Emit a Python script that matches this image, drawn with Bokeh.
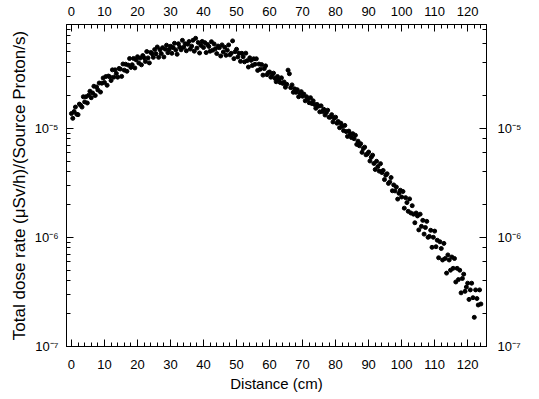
from bokeh.plotting import figure
from bokeh.models import LogAxis, LinearAxis, CustomJSTickFormatter, Range1d, SingleIntervalTicker, LogTicker
from bokeh.embed import file_html
from bokeh.resources import INLINE

# Distance (cm)
distance = [
    0.0, 0.4, 0.8, 1.2, 1.6, 2.0, 2.4, 2.8, 3.2, 3.6, 4.0, 4.4, 4.8, 5.2, 5.6, 6.0, 6.4, 6.8, 7.2, 7.6, 8.0, 8.4, 8.8, 9.2, 9.6,
    10.0, 10.4, 10.8, 11.2, 11.6, 12.0, 12.4, 12.8, 13.2, 13.6, 14.0, 14.4, 14.8, 15.2, 15.6, 16.0, 16.4, 16.8, 17.2, 17.6, 18.0, 18.4, 18.8, 19.2, 19.6,
    20.0, 20.4, 20.8, 21.2, 21.6, 22.0, 22.4, 22.8, 23.2, 23.6, 24.0, 24.4, 24.8, 25.2, 25.6, 26.0, 26.4, 26.8, 27.2, 27.6, 28.0, 28.4, 28.8, 29.2, 29.6,
    30.0, 30.4, 30.8, 31.2, 31.6, 32.0, 32.4, 32.8, 33.2, 33.6, 34.0, 34.4, 34.8, 35.2, 35.6, 36.0, 36.4, 36.8, 37.2, 37.6, 38.0, 38.4, 38.8, 39.2, 39.6,
    40.0, 40.4, 40.8, 41.2, 41.6, 42.0, 42.4, 42.8, 43.2, 43.6, 44.0, 44.4, 44.8, 45.2, 45.6, 46.0, 46.4, 46.8, 47.2, 47.6, 48.0, 48.4, 48.8, 49.2, 49.6,
    50.0, 50.4, 50.8, 51.2, 51.6, 52.0, 52.4, 52.8, 53.2, 53.6, 54.0, 54.4, 54.8, 55.2, 55.6, 56.0, 56.4, 56.8, 57.2, 57.6, 58.0, 58.4, 58.8, 59.2, 59.6,
    60.0, 60.4, 60.8, 61.2, 61.6, 62.0, 62.4, 62.8, 63.2, 63.6, 64.0, 64.4, 64.8, 65.2, 65.6, 66.0, 66.4, 66.8, 67.2, 67.6, 68.0, 68.4, 68.8, 69.2, 69.6,
    70.0, 70.4, 70.8, 71.2, 71.6, 72.0, 72.4, 72.8, 73.2, 73.6, 74.0, 74.4, 74.8, 75.2, 75.6, 76.0, 76.4, 76.8, 77.2, 77.6, 78.0, 78.4, 78.8, 79.2, 79.6,
    80.0, 80.4, 80.8, 81.2, 81.6, 82.0, 82.4, 82.8, 83.2, 83.6, 84.0, 84.4, 84.8, 85.2, 85.6, 86.0, 86.4, 86.8, 87.2, 87.6, 88.0, 88.4, 88.8, 89.2, 89.6,
    90.0, 90.4, 90.8, 91.2, 91.6, 92.0, 92.4, 92.8, 93.2, 93.6, 94.0, 94.4, 94.8, 95.2, 95.6, 96.0, 96.4, 96.8, 97.2, 97.6, 98.0, 98.4, 98.8, 99.2, 99.6,
    100.0, 100.4, 100.8, 101.2, 101.6, 102.0, 102.4, 102.8, 103.2, 103.6, 104.0, 104.4, 104.8, 105.2, 105.6, 106.0, 106.4, 106.8, 107.2, 107.6, 108.0, 108.4, 108.8, 109.2, 109.6,
    110.0, 110.4, 110.8, 111.2, 111.6, 112.0, 112.4, 112.8, 113.2, 113.6, 114.0, 114.4, 114.8, 115.2, 115.6, 116.0, 116.4, 116.8, 117.2, 117.6, 118.0, 118.4, 118.8, 119.2, 119.6,
    120.0, 120.4, 120.8, 121.2, 121.6, 122.0, 122.4, 122.8, 123.2, 123.6, 124.0,
]

# Total dose rate, in units of 1e-6 (uSv/h)/(Source Proton/s)
dose_1e6 = [
    13.6, 12.3, 14.2, 15.6, 13.4, 13.3, 16.6, 16.2, 15.6, 19.4, 17.4, 19.4, 17.0, 20.0, 21.8, 19.0, 21.0, 24.2, 19.9, 23.8, 22.4, 25.9, 21.4, 25.8, 28.8,
    26.2, 29.7, 24.7, 30.0, 29.5, 27.3, 34.2, 29.3, 34.2, 31.7, 29.3, 35.2, 34.8, 29.8, 38.7, 34.0, 38.5, 33.2, 37.8, 43.4, 36.0, 38.1, 43.5, 35.6, 42.2,
    45.1, 39.5, 43.8, 38.0, 46.2, 44.2, 40.8, 50.3, 44.0, 39.6, 49.4, 48.1, 44.5, 52.5, 48.1, 55.4, 44.5, 52.3, 48.2, 54.6, 44.9, 52.9, 57.5, 49.1, 52.6,
    56.2, 48.5, 54.7, 59.9, 52.1, 47.5, 59.3, 55.2, 52.2, 63.7, 55.1, 59.3, 51.1, 58.7, 62.1, 53.0, 56.4, 63.8, 50.7, 66.5, 54.1, 60.9, 48.8, 57.3, 62.3,
    54.8, 60.7, 49.2, 58.4, 56.0, 50.7, 61.9, 51.8, 59.1, 53.4, 48.2, 56.5, 54.6, 45.8, 57.9, 49.8, 55.1, 46.5, 51.7, 57.8, 46.9, 48.5, 63.0, 43.3, 50.2,
    52.8, 44.9, 48.5, 40.9, 48.5, 45.1, 40.5, 48.6, 41.5, 36.3, 44.1, 41.8, 37.5, 43.2, 38.5, 43.2, 33.8, 38.6, 34.7, 38.2, 30.6, 35.1, 37.2, 30.9, 32.2,
    32.7, 29.3, 30.8, 31.9, 28.6, 26.6, 29.7, 27.7, 26.2, 28.9, 25.7, 26.5, 23.7, 25.2, 34.0, 31.5, 23.5, 24.9, 21.3, 22.9, 21.3, 22.5, 19.4, 20.9, 21.6,
    19.6, 20.5, 17.8, 19.4, 18.5, 17.1, 19.0, 16.8, 17.8, 16.5, 15.2, 16.5, 15.9, 14.1, 16.0, 14.2, 14.9, 13.2, 13.9, 14.6, 12.6, 12.6, 13.3, 11.4, 12.3,
    12.6, 11.1, 11.5, 10.1, 11.1, 10.4, 9.5, 10.6, 9.3, 8.4, 9.4, 8.9, 8.2, 8.9, 8.0, 8.6, 7.1, 7.6, 6.9, 7.2, 6.0, 6.5, 6.7, 5.7, 5.8,
    6.04, 5.0, 5.41, 5.66, 4.75, 4.18, 4.97, 4.45, 4.04, 4.73, 3.92, 4.10, 3.38, 3.71, 3.82, 3.12, 3.22, 3.53, 2.67, 3.02, 2.66, 2.89, 2.24, 2.53, 2.70,
    2.34, 2.63, 1.85, 2.31, 2.08, 1.73, 2.25, 1.67, 1.95, 1.63, 1.36, 1.67, 1.57, 1.17, 1.63, 1.26, 1.43, 1.07, 1.23, 1.40, 1.0, 1.02, 1.16, 0.81, 1.0,
    1.14, 0.82, 0.94, 0.65, 0.91, 0.79, 0.62, 0.88, 0.64, 0.47, 0.69, 0.62, 0.50, 0.66, 0.52, 0.64, 0.39, 0.52, 0.41, 0.50, 0.31, 0.42, 0.46, 0.32, 0.35,
    0.38, 0.27, 0.33, 0.38, 0.28, 0.185, 0.33, 0.275, 0.24, 0.33, 0.245,
]
dose = [v * 1e-6 for v in dose_1e6]

x_label = "Distance (cm)"
y_label = "Total dose rate (\u03bcSv/h)/(Source Proton/s)"

FONT = "Liberation Sans"

p = figure(width=539, height=394, output_backend="svg", toolbar_location=None,
           y_axis_type="log",
           x_range=Range1d(-1.5, 125.7), y_range=Range1d(1e-7, 8.9e-5),
           min_border_left=66, min_border_right=53, min_border_top=24, min_border_bottom=47)
p.grid.visible = False
p.outline_line_color = "black"
p.outline_line_width = 1
p.background_fill_color = "white"
p.border_fill_color = "white"

p.scatter(distance, dose, size=4, color="black", marker="circle")

log_fmt = CustomJSTickFormatter(code="""
const sup = {'-':'\u207b','0':'\u2070','1':'\u00b9','2':'\u00b2','3':'\u00b3','4':'\u2074','5':'\u2075','6':'\u2076','7':'\u2077','8':'\u2078','9':'\u2079'};
const e = Math.round(Math.log10(tick));
return '10' + String(e).split('').map(c => sup[c]).join('');
""")

bottom = p.below[0]
left = p.left[0]
right = LogAxis(ticker=LogTicker(), formatter=log_fmt)
top = LinearAxis(ticker=SingleIntervalTicker(interval=10, num_minor_ticks=5))
p.add_layout(right, "right")
p.add_layout(top, "above")

bottom.ticker = SingleIntervalTicker(interval=10, num_minor_ticks=5)
left.formatter = log_fmt

for ax in [bottom, left, right, top]:
    ax.major_tick_in = 7
    ax.major_tick_out = 0
    ax.minor_tick_in = 4
    ax.minor_tick_out = 0
    ax.axis_line_color = "black"
    ax.major_tick_line_color = "black"
    ax.minor_tick_line_color = "black"
    ax.major_label_text_font = FONT
    ax.major_label_text_font_size = "13px"
    ax.major_label_text_color = "black"
    ax.axis_label_text_font = FONT
    ax.axis_label_text_font_size = "15px"
    ax.axis_label_text_font_style = "normal"
    ax.axis_label_text_color = "black"

bottom.axis_label = x_label
bottom.major_label_standoff = 13
bottom.axis_label_standoff = 3
top.major_label_standoff = 9
left.axis_label = y_label
left.axis_label_text_font_size = "17px"
left.major_label_standoff = 8
left.axis_label_standoff = 3
right.major_label_standoff = 11

open("out.html", "w").write(file_html(p, INLINE))
